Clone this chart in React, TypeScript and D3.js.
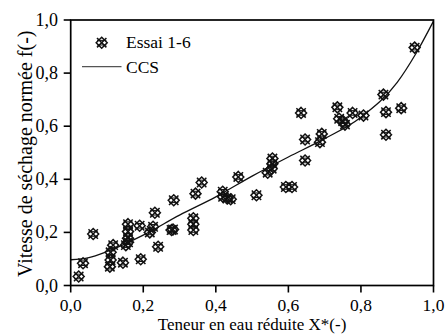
import React from "react";
import * as d3 from "d3";

const essaiX = [0.022, 0.034, 0.062, 0.108, 0.11, 0.11, 0.117, 0.144, 0.152, 0.158, 0.158, 0.158, 0.158, 0.19, 0.193, 0.218, 0.227, 0.232, 0.241, 0.278, 0.282, 0.284, 0.338, 0.338, 0.338, 0.344, 0.361, 0.419, 0.42, 0.432, 0.441, 0.462, 0.512, 0.543, 0.554, 0.556, 0.556, 0.593, 0.61, 0.635, 0.646, 0.646, 0.687, 0.692, 0.735, 0.74, 0.751, 0.756, 0.777, 0.807, 0.862, 0.869, 0.869, 0.911, 0.948];
const essaiY = [0.034, 0.084, 0.194, 0.071, 0.096, 0.125, 0.152, 0.086, 0.152, 0.231, 0.203, 0.178, 0.163, 0.225, 0.099, 0.2, 0.221, 0.274, 0.146, 0.209, 0.211, 0.321, 0.209, 0.231, 0.253, 0.346, 0.388, 0.353, 0.334, 0.328, 0.325, 0.409, 0.34, 0.425, 0.44, 0.459, 0.478, 0.371, 0.371, 0.65, 0.55, 0.471, 0.54, 0.571, 0.671, 0.628, 0.619, 0.606, 0.65, 0.64, 0.719, 0.653, 0.568, 0.668, 0.896];

const ccsX = [0, 0.05, 0.1, 0.2, 0.3, 0.4, 0.5, 0.6, 0.7, 0.8, 0.9, 0.95, 1.0];
const ccsY = [0.097, 0.105, 0.128, 0.19, 0.265, 0.334, 0.412, 0.484, 0.553, 0.634, 0.765, 0.87, 0.996];

const ticks = [0, 0.2, 0.4, 0.6, 0.8, 1.0];
const tickLabels = ["0,0", "0,2", "0,4", "0,6", "0,8", "1,0"];

const FONT = '"Liberation Serif"';

function Marker({ cx, cy }: { cx: number; cy: number }) {
  const r = 5.5;
  const a = 4.7;
  return (
    <g stroke="#111" strokeWidth={1.5} fill="none">
      <path d={`M${cx},${cy - r} L${cx + r},${cy} L${cx},${cy + r} L${cx - r},${cy} Z`} />
      <line x1={cx - a} y1={cy - a} x2={cx + a} y2={cy + a} />
      <line x1={cx - a} y1={cy + a} x2={cx + a} y2={cy - a} />
      <line x1={cx - a} y1={cy - 2.3} x2={cx + a} y2={cy - 2.3} strokeWidth={1} />
      <line x1={cx - a} y1={cy + 2.3} x2={cx + a} y2={cy + 2.3} strokeWidth={1} />
    </g>
  );
}

export default function App() {
  const W = 447, H = 335;
  const x = d3.scaleLinear().domain([0, 1]).range([70.7, 433.5]);
  const y = d3.scaleLinear().domain([0, 1]).range([285.5, 20]);
  const line = d3
    .line<number>()
    .x((_, i) => x(ccsX[i]))
    .y((d) => y(d))
    .curve(d3.curveMonotoneX);
  const st = (size: number) => ({ fontFamily: FONT, fontSize: size + "px", fill: "#000" } as React.CSSProperties);
  return (
    <svg width={W} height={H} style={{ position: "absolute", left: 0, top: 0, background: "#fff" }}>
      <rect x={0} y={0} width={W} height={H} fill="#fff" />
      <path d={line(ccsY) || ""} fill="none" stroke="#111" strokeWidth={1.3} />
      {essaiX.map((v, i) => (
        <Marker key={i} cx={x(v)} cy={y(essaiY[i])} />
      ))}
      <rect x={x(0)} y={y(1)} width={x(1) - x(0)} height={y(0) - y(1)} fill="none" stroke="#000" strokeWidth={1.7} />
      {ticks.map((t, i) => (
        <g key={"x" + i}>
          <line x1={x(t)} x2={x(t)} y1={y(0)} y2={y(0) + 7} stroke="#000" strokeWidth={1.6} />
          <text x={x(t)} y={310.5} textAnchor="middle" style={st(17.5)}>{tickLabels[i]}</text>
        </g>
      ))}
      {ticks.map((t, i) => (
        <g key={"y" + i}>
          <line x1={x(0) - 7} x2={x(0)} y1={y(t)} y2={y(t)} stroke="#000" strokeWidth={1.6} />
          <text x={58} y={y(t) + 6} textAnchor="end" style={st(18)}>{tickLabels[i]}</text>
        </g>
      ))}
      <text x={(x(0) + x(1)) / 2} y={330} textAnchor="middle" style={st(17)}>Teneur en eau réduite X*(-)</text>
      <text transform={`translate(32,${(y(0) + y(1)) / 2 + 1}) rotate(-90)`} textAnchor="middle" style={st(20)}>Vitesse de séchage normée f(-)</text>
      <Marker cx={101.7} cy={42.7} />
      <text x={126} y={48} style={st(17.5)}>Essai 1-6</text>
      <line x1={82} x2={121.5} y1={66.7} y2={66.7} stroke="#555" strokeWidth={1.2} />
      <text x={126} y={73.3} style={st(17.5)}>CCS</text>
    </svg>
  );
}
